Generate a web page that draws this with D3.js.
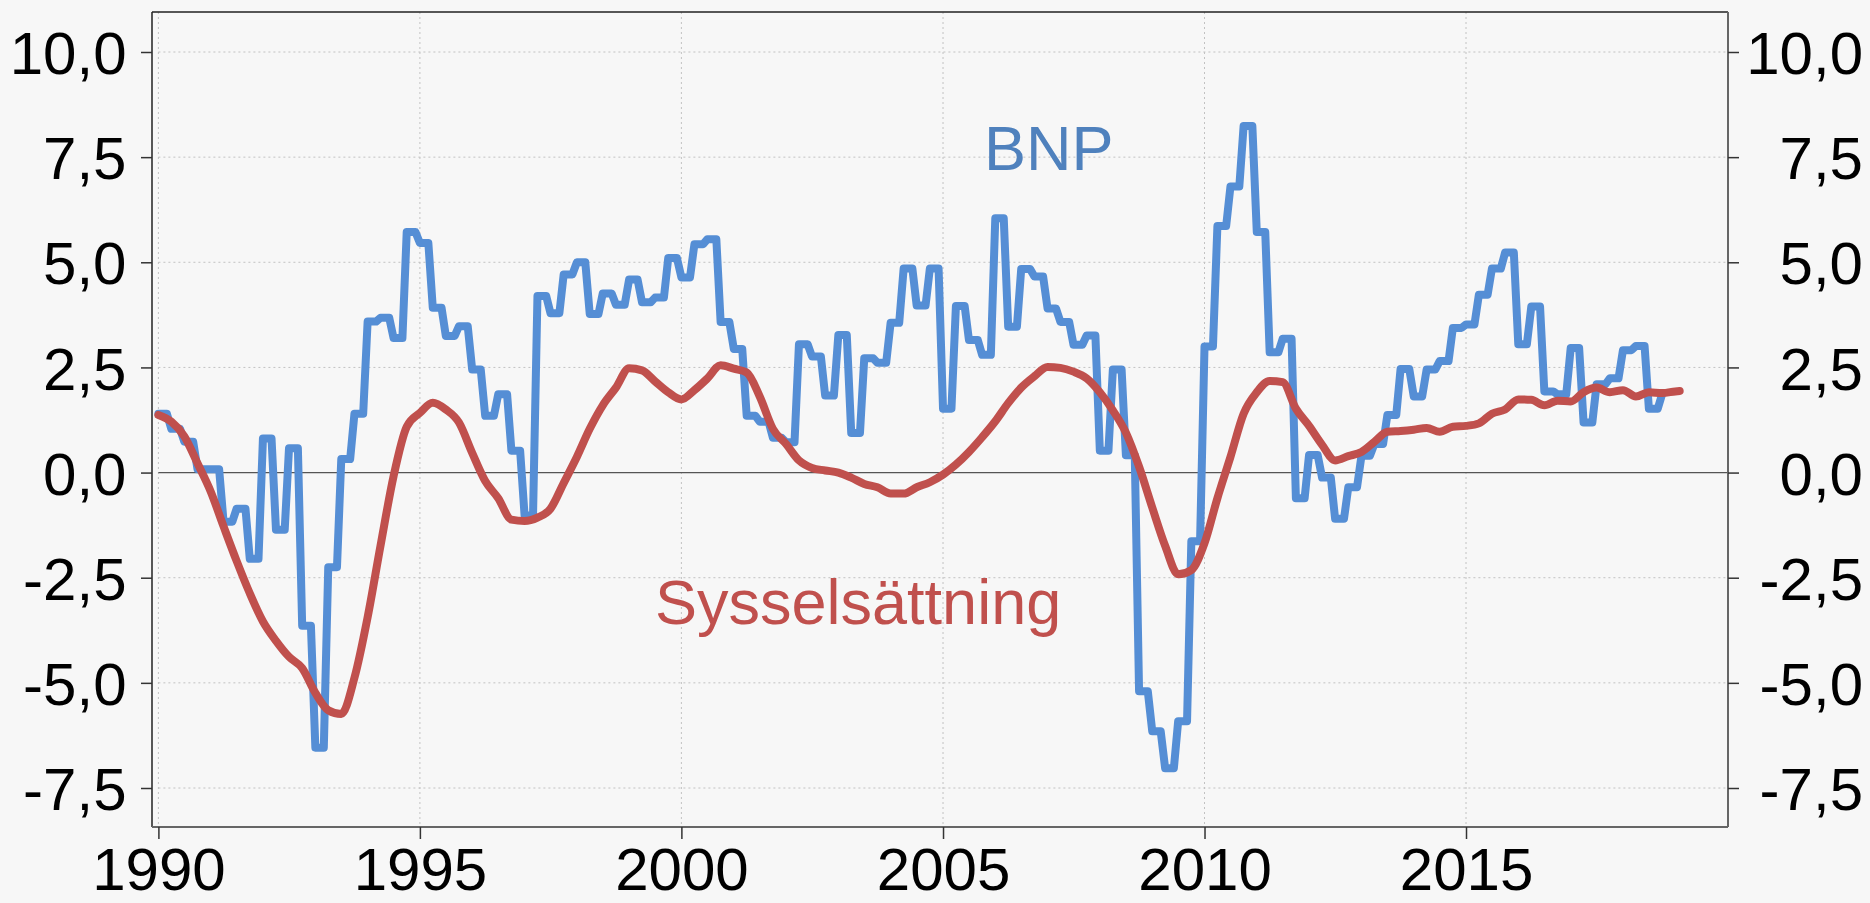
<!DOCTYPE html>
<html>
<head>
<meta charset="utf-8">
<title>BNP och sysselsättning</title>
<script src="https://d3js.org/d3.v7.min.js"></script>
<style>
  body { margin: 0; background: #f7f7f7; }
  svg { display: block; font-family: "Liberation Sans", Arial, sans-serif; }
  .grid line { stroke: #c2c2c2; stroke-width: 1; stroke-dasharray: 2,3; }
  .axis text { font-size: 60px; fill: #000; }
  .axis line { stroke: #333; stroke-width: 1.5; }
  .line { fill: none; stroke-linejoin: round; stroke-linecap: round; }
</style>
</head>
<body>
<svg width="1870" height="903"></svg>
<script>
// BNP, årlig förändring i procent, kvartal från 1990K1
var bnp1990s = [1.40, 1.04, 0.73, 0.08,  0.08, -1.17, -0.86, -2.05,  0.81, -1.36, 0.58, -3.64,
                -6.54, -2.25, 0.32, 1.40,  3.59, 3.68, 3.20, 5.72,  5.46, 3.92, 3.25, 3.48,
                2.45, 1.35, 1.86, 0.52,  -1.02, 4.20, 3.79, 4.71,  5.00, 3.77, 4.26, 3.99,
                4.59, 4.05, 4.16, 5.10]
var bnp2000s = [4.64, 5.43, 5.55, 3.58,  2.94, 1.35, 1.21, 0.83,  0.72, 3.05, 2.76, 1.83,
                3.27, 0.94, 2.72, 2.61,  3.56, 4.85, 3.97, 4.85,  1.52, 3.96, 3.15, 2.80,
                6.05, 3.47, 4.84, 4.66,  3.90, 3.58, 3.04, 3.26,  0.52, 2.45, 0.41, -5.20,
                -6.15, -7.03, -5.91, -1.63]
var bnp2010s = [3.00, 5.86, 6.80, 8.24,  5.72, 2.86, 3.18, -0.61,  0.42, -0.12, -1.10, -0.35,
                0.40, 0.68, 1.37, 2.46,  1.81, 2.45, 2.65, 3.44,  3.52, 4.23, 4.85, 5.23,
                3.05, 3.95, 1.93, 1.86,  2.96, 1.19, 2.10, 2.24,  2.91, 3.01, 1.52, 1.86]

// Sysselsättning, årlig förändring i procent, kvartal från 1990K1
var emp1990s = [1.37, 1.21, 0.86, 0.22,  -0.45, -1.28, -2.10, -2.87,  -3.54, -4.00, -4.38, -4.65,
                -5.24, -5.65, -5.74, -4.88,  -3.44, -1.74, -0.09, 1.09,  1.42, 1.66, 1.50, 1.19,
                0.47, -0.20, -0.61, -1.12,  -1.15, -1.07, -0.86, -0.25,  0.37, 1.04, 1.60, 2.02,
                2.48, 2.43, 2.17, 1.91]
var emp2000s = [1.74, 1.96, 2.24, 2.55,  2.47, 2.38, 1.81, 1.04,  0.68, 0.29, 0.11, 0.05,
                0.00, -0.12, -0.27, -0.35,  -0.50, -0.50, -0.35, -0.23,  -0.05, 0.19, 0.49, 0.84,
                1.22, 1.65, 2.02, 2.29,  2.51, 2.49, 2.40, 2.24,  1.91, 1.48, 0.95, 0.14,
                -0.83, -1.74, -2.42, -2.32]
var emp2010s = [-1.68, -0.61, 0.37, 1.40,  1.91, 2.18, 2.15, 1.52,  1.11, 0.66, 0.29, 0.39,
                0.49, 0.73, 0.97, 0.99,  1.02, 1.06, 0.97, 1.09,  1.11, 1.17, 1.40, 1.50,
                1.74, 1.73, 1.60, 1.71,  1.69, 1.91, 2.02, 1.91,  1.96, 1.81, 1.91, 1.89,
                1.93]
var empLast = {date: new Date(2019, 1, 1), v: 1.94}

var yTicks = [-7.5, -5, -2.5, 0, 2.5, 5, 7.5, 10]
var xTicks = [1990, 1995, 2000, 2005, 2010, 2015]
var bnpEnd = new Date(2018, 9, 1)

var svg = d3.select('svg')
var frame = {left: 152, top: 12, right: 1728, bottom: 827}

var x = d3.scaleTime()
  .domain([new Date(1990, 0, 1), new Date(2020, 0, 1)])
  .range([158.4, 1727.5])
var y = d3.scaleLinear()
  .domain([-7.5, 10])
  .range([788, 52])

var sv = d3.formatLocale({decimal: ',', thousands: ' ', grouping: [3], currency: ['', ' kr'], minus: '-'})
var fmt = sv.format('.1f')

// BNP är kvartalsdata som upprepas varje månad
var bnp = []
bnp1990s.concat(bnp2000s, bnp2010s).forEach(function(v, i) {
  for (var m = 0; m < 3; m++) {
    var d = new Date(1990, i * 3 + m, 1)
    if (d <= bnpEnd) bnp.push({date: d, v: v})
  }
})

var emp = emp1990s.concat(emp2000s, emp2010s).map(function(v, i) {
  return {date: new Date(1990, i * 3, 1), v: v}
})
emp.push(empLast)

// Rutnät
var grid = svg.append('g').attr('class', 'grid')
grid.selectAll('line.h')
  .data(yTicks.filter(function(d) { return d !== 0 }))
  .enter().append('line')
  .attr('x1', x(new Date(1990, 0, 1))).attr('x2', frame.right)
  .attr('y1', function(d) { return y(d) }).attr('y2', function(d) { return y(d) })
grid.selectAll('line.v')
  .data(xTicks)
  .enter().append('line')
  .attr('x1', function(d) { return x(new Date(d, 0, 1)) })
  .attr('x2', function(d) { return x(new Date(d, 0, 1)) })
  .attr('y1', frame.top).attr('y2', frame.bottom)

svg.append('line')
  .attr('x1', x(new Date(1990, 0, 1))).attr('x2', frame.right)
  .attr('y1', y(0)).attr('y2', y(0))
  .attr('stroke', '#555').attr('stroke-width', 1.2)

// Ram
svg.append('line').attr('x1', frame.left).attr('x2', frame.right).attr('y1', frame.top).attr('y2', frame.top)
  .attr('stroke', '#222').attr('stroke-width', 1.5)
svg.append('line').attr('x1', frame.left).attr('x2', frame.left).attr('y1', frame.top).attr('y2', frame.bottom)
  .attr('stroke', '#222').attr('stroke-width', 1.5)
svg.append('line').attr('x1', frame.right).attr('x2', frame.right).attr('y1', frame.top).attr('y2', frame.bottom)
  .attr('stroke', '#666').attr('stroke-width', 2)
svg.append('line').attr('x1', frame.left).attr('x2', frame.right).attr('y1', frame.bottom).attr('y2', frame.bottom)
  .attr('stroke', '#666').attr('stroke-width', 2)

// Axlar
var left = svg.append('g').attr('class', 'axis')
  .attr('transform', 'translate(' + frame.left + ',0)')
  .call(d3.axisLeft(y).tickValues(yTicks).tickSize(11).tickPadding(14.5).tickFormat(fmt))
left.select('.domain').remove()
left.selectAll('text').attr('dy', '0.36em')

var right = svg.append('g').attr('class', 'axis')
  .attr('transform', 'translate(' + frame.right + ',0)')
  .call(d3.axisRight(y).tickValues(yTicks).tickSize(11).tickFormat(fmt))
right.select('.domain').remove()
right.selectAll('text').attr('text-anchor', 'end').attr('x', 135).attr('dy', '0.36em')

var bottom = svg.append('g').attr('class', 'axis')
  .attr('transform', 'translate(0,' + frame.bottom + ')')
  .call(d3.axisBottom(x).tickValues(xTicks.map(function(d) { return new Date(d, 0, 1) }))
    .tickSize(12).tickFormat(d3.timeFormat('%Y')))
bottom.select('.domain').remove()
bottom.selectAll('text').attr('y', 63).attr('dy', 0)

// Linjer
var line = d3.line()
  .x(function(d) { return x(d.date) })
  .y(function(d) { return y(d.v) })

svg.append('path')
  .datum(bnp)
  .attr('class', 'line')
  .attr('stroke', '#558ed5')
  .attr('stroke-width', 8)
  .attr('d', line)

svg.append('path')
  .datum(emp)
  .attr('class', 'line')
  .attr('stroke', '#c0504d')
  .attr('stroke-width', 8)
  .attr('d', line.curve(d3.curveMonotoneX))

// Etiketter
svg.append('text')
  .attr('x', 984).attr('y', 170)
  .attr('font-size', 63).attr('fill', '#4f81bd')
  .text('BNP')
svg.append('text')
  .attr('x', 655).attr('y', 624)
  .attr('font-size', 63).attr('fill', '#c0504d')
  .text('Sysselsättning')
</script>
</body>
</html>
